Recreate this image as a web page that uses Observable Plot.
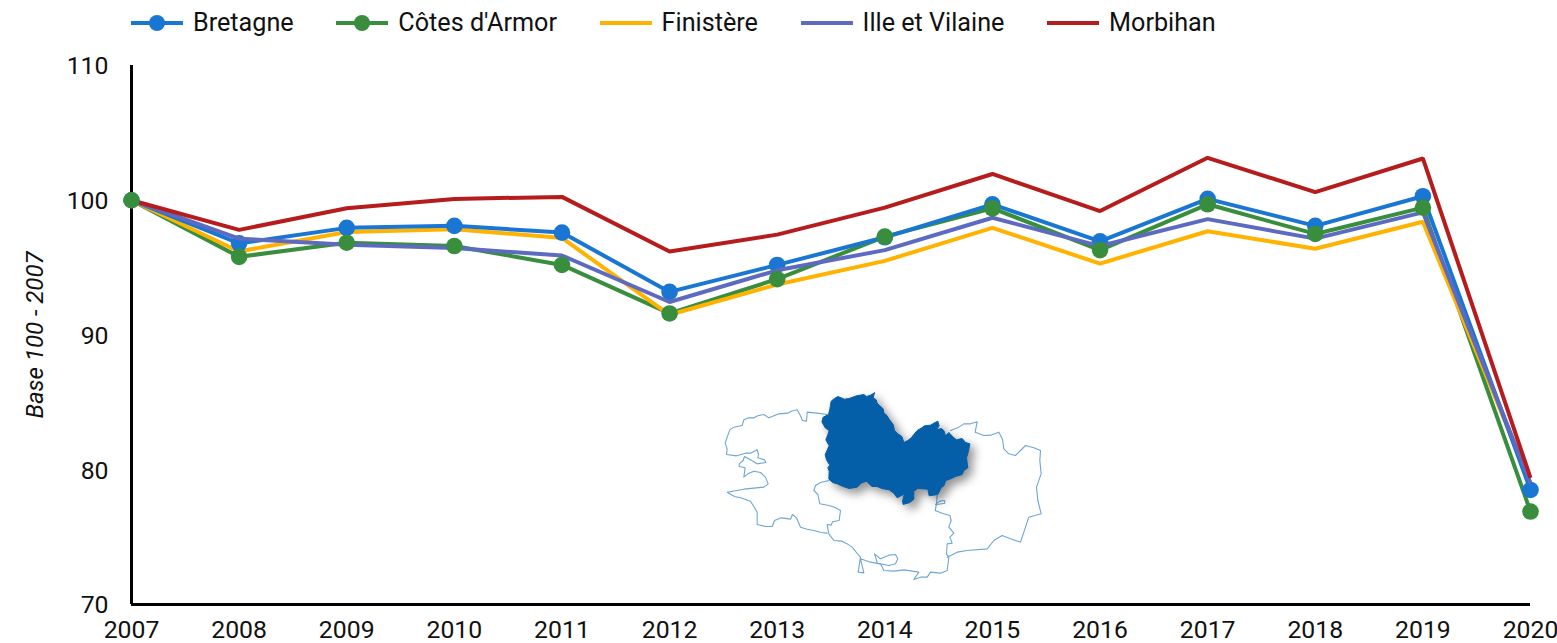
<!DOCTYPE html>
<html lang="fr">
<head>
<meta charset="utf-8">
<title>Base 100 - 2007</title>
<script src="https://cdn.jsdelivr.net/npm/d3@7"></script>
<script src="https://cdn.jsdelivr.net/npm/@observablehq/plot@0.6"></script>
<style>
  html, body { margin: 0; padding: 0; background: #fff; }
  body { width: 1557px; height: 643px; overflow: hidden; position: relative; font-family: Roboto, sans-serif; }
  #legend { height: 46px; display: flex; align-items: center; padding-left: 131px; box-sizing: border-box; font-size: 25.2px; color: #111; }
  .item { display: flex; align-items: center; margin-right: 42.6px; white-space: nowrap; }
  .item svg { margin-right: 10px; display: block; }
  .item span { position: relative; top: -1px; }
  #chart svg { display: block; }
  #inset { position: absolute; left: 700px; top: 380px; }
  #inset svg { display: block; overflow: visible; background: transparent; }
</style>
</head>
<body>
<div id="legend"></div>
<div id="chart"></div>
<div id="inset"></div>
<script>
const years = [2007, 2008, 2009, 2010, 2011, 2012, 2013, 2014, 2015, 2016, 2017, 2018, 2019, 2020];
const bretagne = [100, 96.8, 97.95, 98.1, 97.6, 93.2, 95.2, 97.25, 99.7, 96.95, 100.1, 98.1, 100.3, 78.5];
const cotes = [100, 95.8, 96.85, 96.6, 95.2, 91.6, 94.15, 97.3, 99.4, 96.3, 99.7, 97.5, 99.45, 76.9];
const finistere = [100, 96.2, 97.65, 97.85, 97.2, 91.5, 93.75, 95.5, 97.95, 95.3, 97.7, 96.4, 98.4, 79.0];
const ille = [100, 97.15, 96.7, 96.45, 95.9, 92.45, 94.8, 96.3, 98.7, 96.6, 98.6, 97.15, 99.1, 79.0];
const morbihan = [100, 97.8, 99.4, 100.1, 100.25, 96.2, 97.45, 99.45, 101.95, 99.2, 103.15, 100.6, 103.1, 79.4];

const legendNames = ["Bretagne", "Côtes d'Armor", "Finistère", "Ille et Vilaine", "Morbihan"];
const legendColors = ["#1976d2", "#388e3c", "#ffb300", "#5c6bc0", "#b71c1c"];
const legendDots = [true, true, false, false, false];
const yTicks = [70, 80, 90, 100, 110];

const mapHighlight = [[522,37],[518,52],[527,58],[530,68],[538,76],[548,85],[550,97],[560,106],[567,118],[578,132],[582,150],[592,160],[604,168],[610,186],[622,180],[632,172],[640,162],[650,150],[664,142],[672,136],[690,134],[700,128],[712,122],[716,136],[708,148],[722,144],[730,150],[735,166],[745,156],[758,170],[768,178],[785,174],[795,186],[808,190],[804,212],[798,232],[802,262],[790,270],[785,282],[765,288],[748,296],[736,300],[730,316],[722,322],[712,342],[686,346],[682,326],[652,324],[640,332],[640,356],[628,366],[608,372],[606,362],[612,340],[590,352],[580,338],[566,328],[544,324],[530,318],[514,318],[498,302],[482,308],[470,320],[446,324],[428,318],[410,310],[396,306],[385,296],[386,272],[382,262],[388,254],[378,238],[374,222],[386,196],[376,178],[382,162],[386,150],[374,142],[364,124],[368,110],[384,102],[388,86],[392,62],[402,54],[412,48],[432,56],[446,54],[468,46],[490,42],[498,48],[510,44],[522,37]];
const mapFinistere = [[380,102],[350,98],[320,95],[318,122],[306,120],[298,102],[290,88],[272,92],[262,98],[235,100],[215,108],[205,112],[190,102],[172,106],[160,112],[145,112],[130,118],[125,135],[100,140],[88,148],[80,170],[74,188],[80,205],[78,222],[108,226],[135,218],[150,218],[170,208],[174,222],[172,232],[192,238],[196,246],[170,250],[150,238],[132,228],[128,240],[116,250],[116,258],[134,262],[130,290],[142,280],[160,272],[180,276],[195,290],[203,310],[190,320],[130,326],[80,335],[102,348],[120,352],[150,362],[160,378],[170,395],[170,432],[195,438],[215,438],[222,420],[242,412],[270,416],[276,402],[288,412],[300,440],[320,446],[340,450],[362,456],[380,458]];
const mapMorbihan = [[385,300],[360,306],[345,315],[340,330],[352,342],[358,370],[385,375],[402,380],[420,390],[416,420],[396,424],[392,434],[380,432],[385,460],[400,480],[424,482],[440,490],[455,500],[475,525],[480,530],[473,575],[490,577],[480,535],[510,545],[540,550],[550,570],[580,572],[610,568],[655,575],[640,597],[660,590],[680,590],[690,575],[720,578],[740,570],[745,530],[738,520],[740,490],[755,488],[748,470],[760,458],[745,440],[752,420],[748,405],[725,398],[704,390],[708,370],[710,345]];
const mapGolfe = [[522,520],[540,535],[565,524],[585,522],[592,535],[585,550],[565,555],[530,548],[526,532],[522,520]];
const mapEtang = [[705,372],[718,362],[732,360],[733,368],[710,372]];
const mapIlle = [[750,150],[772,142],[790,130],[810,130],[830,124],[824,155],[850,165],[870,164],[895,155],[906,176],[910,205],[925,220],[945,225],[960,210],[975,195],[1000,202],[1020,210],[1018,240],[1022,280],[1008,320],[1012,360],[1022,400],[985,410],[975,440],[960,485],[930,475],[905,465],[880,480],[860,505],[800,510],[770,515],[740,530]];

const toRows = (values) => years.map((year, i) => ({year, value: values[i]}));
const color = (name) => legendColors[legendNames.indexOf(name)];

// Legend
const legend = d3.select("#legend");
legendNames.forEach((name, i) => {
  const item = legend.append("div").attr("class", "item");
  const s = item.append("svg").attr("width", 52).attr("height", 20);
  s.append("line").attr("x1", 0).attr("x2", 52).attr("y1", 10).attr("y2", 10)
    .attr("stroke", legendColors[i]).attr("stroke-width", 4);
  if (legendDots[i]) s.append("circle").attr("cx", 26).attr("cy", 10).attr("r", 8).attr("fill", legendColors[i]);
  item.append("span").text(name);
});

const lineOf = (values, name) => Plot.line(toRows(values), {x: "year", y: "value", stroke: color(name), strokeWidth: 4, strokeLinejoin: "miter", strokeLinecap: "butt"});
const dotOf = (values, name) => Plot.dot(toRows(values), {x: "year", y: "value", fill: color(name), r: 8.3});

const chart = Plot.plot({
  width: 1557,
  height: 597,
  marginTop: 19,
  marginBottom: 39,
  marginLeft: 131,
  marginRight: 27,
  style: {fontFamily: "Roboto, sans-serif", fontSize: "24.8px", color: "#111", background: "transparent", overflow: "visible"},
  x: {domain: [2007, 2020], label: null, axis: null},
  y: {domain: [70, 110], label: null, axis: null},
  marks: [
    Plot.axisX({ticks: years, tickFormat: "d", tickSize: 0, tickPadding: 16, label: null, dy: 0}),
    Plot.axisY({ticks: yTicks, tickSize: 0, tickPadding: 23, label: null, dy: 1}),
    Plot.ruleX([2007], {stroke: "#000", strokeWidth: 3}),
    Plot.ruleY([70], {stroke: "#000", strokeWidth: 3}),
    lineOf(cotes, "Côtes d'Armor"),
    lineOf(finistere, "Finistère"),
    lineOf(bretagne, "Bretagne"),
    dotOf(bretagne, "Bretagne"),
    lineOf(ille, "Ille et Vilaine"),
    lineOf(morbihan, "Morbihan"),
    dotOf(cotes, "Côtes d'Armor"),
    Plot.text(["Base 100 - 2007"], {frameAnchor: "left", dx: -96, dy: 0, rotate: -90, fontSize: 24, fontStyle: "italic", fill: "#111", textAnchor: "middle"})
  ]
});
document.getElementById("chart").appendChild(chart);

const outline = (pts) => Plot.line(pts, {x: "0", y: "1", stroke: "#6ea6d6", strokeWidth: 1.1});
const inset = Plot.plot({
  width: 360,
  height: 210,
  margin: 0,
  style: {background: "transparent", overflow: "visible"},
  x: {domain: [0, 1080], axis: null},
  y: {domain: [630, 0], axis: null},
  marks: [
    outline(mapFinistere),
    outline(mapMorbihan),
    outline(mapGolfe),
    outline(mapEtang),
    outline(mapIlle),
    Plot.line(mapHighlight, {x: "0", y: "1", fill: "#045ea8", stroke: "#045ea8", strokeWidth: 1, className: "map-highlight"})
  ]
});
document.getElementById("inset").appendChild(inset);
d3.select(inset).selectAll(".map-highlight").style("filter", "drop-shadow(5px 5px 5px rgba(0,0,0,0.42))");
</script>
</body>
</html>
